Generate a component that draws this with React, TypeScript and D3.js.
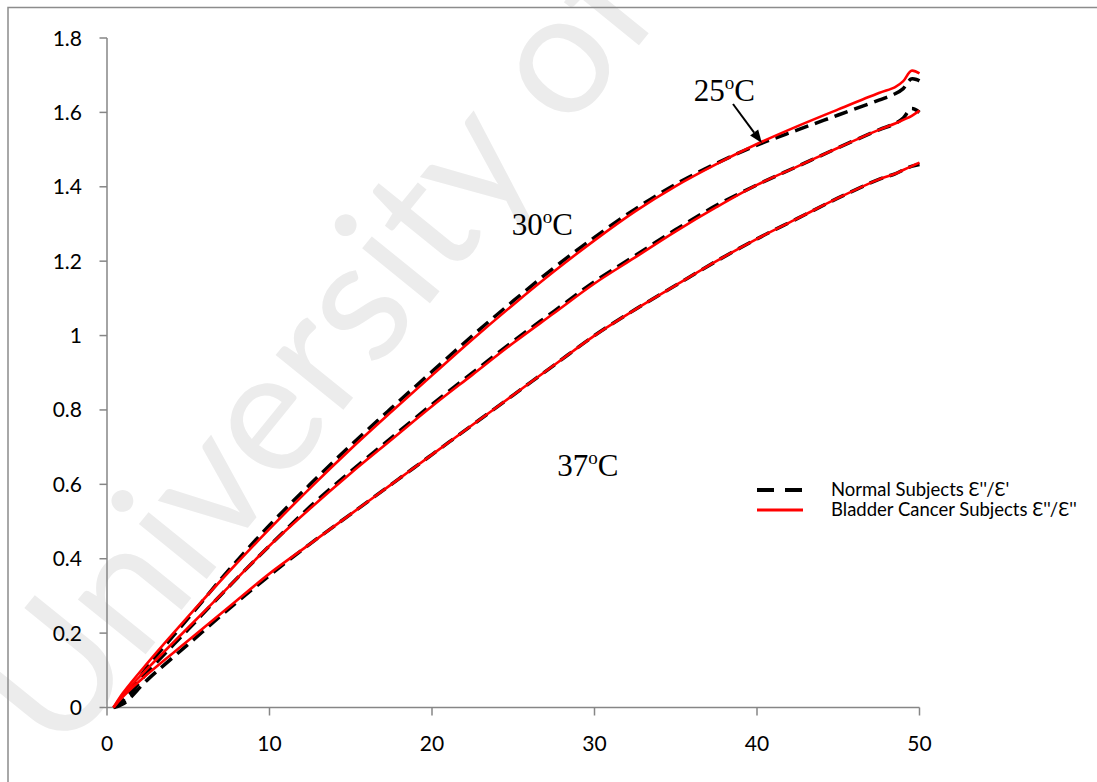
import React from "react";
import * as d3 from "d3";

const xValues = [0.4, 1, 2.5, 5, 7.5, 10, 12.5, 15, 17.5, 20, 22.5, 25, 27.5, 30, 32.5, 35, 37.5, 40, 42.5, 45, 47.5, 48.5, 49, 49.5, 50];

const cancer25 = [0, 0.04, 0.12, 0.245, 0.365, 0.48, 0.59, 0.695, 0.795, 0.893, 0.99, 1.083, 1.172, 1.256, 1.334, 1.402, 1.461, 1.515, 1.563, 1.608, 1.652, 1.668, 1.684, 1.712, 1.705];
const normal25 = [0, 0.02, 0.11, 0.24, 0.37, 0.49, 0.60, 0.705, 0.805, 0.903, 1.0, 1.093, 1.182, 1.264, 1.34, 1.407, 1.463, 1.512, 1.553, 1.593, 1.633, 1.65, 1.664, 1.69, 1.685];
const cancer30 = [0, 0.035, 0.105, 0.215, 0.325, 0.435, 0.535, 0.63, 0.72, 0.81, 0.895, 0.98, 1.06, 1.14, 1.21, 1.28, 1.345, 1.405, 1.455, 1.505, 1.553, 1.57, 1.58, 1.59, 1.605];
const normal30 = [0, 0.015, 0.095, 0.21, 0.325, 0.435, 0.54, 0.635, 0.725, 0.815, 0.90, 0.985, 1.065, 1.145, 1.215, 1.285, 1.35, 1.405, 1.455, 1.505, 1.553, 1.57, 1.585, 1.61, 1.60];
const cancer37 = [0, 0.03, 0.09, 0.18, 0.27, 0.36, 0.44, 0.52, 0.60, 0.68, 0.76, 0.84, 0.92, 1.0, 1.07, 1.135, 1.2, 1.26, 1.315, 1.37, 1.42, 1.435, 1.445, 1.455, 1.465];
const normal37 = [0, 0.01, 0.075, 0.17, 0.265, 0.355, 0.44, 0.52, 0.60, 0.68, 0.76, 0.84, 0.92, 1.0, 1.07, 1.135, 1.2, 1.26, 1.315, 1.37, 1.42, 1.435, 1.445, 1.455, 1.46];

const xTicks = [0, 10, 20, 30, 40, 50];
const yTicks = [0, 0.2, 0.4, 0.6, 0.8, 1, 1.2, 1.4, 1.6, 1.8];

const legendLabels = ["Normal Subjects \u0190''/\u0190'", "Bladder Cancer Subjects \u0190''/\u0190''"];
const tempLabels = [
  { t: "25", x: 36.1, y: 1.631 },
  { t: "30", x: 24.9, y: 1.27 },
  { t: "37", x: 27.7, y: 0.622 },
];

const W = 1097;
const H = 782;

export default function App() {
  const x = d3.scaleLinear().domain([0, 50]).range([107, 919.5]);
  const y = d3.scaleLinear().domain([0, 1.8]).range([707.5, 38]);
  const line = (ys: number[]) =>
    d3
      .line<number>()
      .x((_, i) => x(xValues[i]))
      .y((d) => y(d))
      .curve(d3.curveCatmullRom.alpha(0.5))(ys) as string;

  const normals = [normal25, normal30, normal37];
  const cancers = [cancer25, cancer30, cancer37];
  const axisColor = "#868686";
  const tickFont = "Lato, Carlito, 'Open Sans', sans-serif";

  // arrow geometry
  const ax0 = 733, ay0 = 104;
  const ax1 = x(40.3), ay1 = y(1.515) - 1;
  const ang = Math.atan2(ay1 - ay0, ax1 - ax0);
  const hl = 13, hw = 5;
  const bx = ax1 - hl * Math.cos(ang), by = ay1 - hl * Math.sin(ang);
  const head = `M${ax1},${ay1} L${bx + hw * Math.sin(ang)},${by - hw * Math.cos(ang)} L${bx - hw * Math.sin(ang)},${by + hw * Math.cos(ang)} Z`;

  return (
    <svg
      width={W}
      height={H}
      style={{ position: "absolute", left: 0, top: 0, background: "#fff" }}
    >
      <rect x={0} y={0} width={W} height={H} fill="#fff" />
      <text
        transform="translate(60,760) rotate(-51)"
        fontFamily="Lato, 'Open Sans', sans-serif"
        fontSize={172}
        fill="#ececec"
      >
        University of
      </text>
      <rect x={8} y={7.5} width={W + 20} height={H + 20} fill="none" stroke="#8c8c8c" strokeWidth={1.5} />

      {/* axes */}
      <line x1={x(0)} x2={x(0)} y1={y(1.8)} y2={y(0)} stroke={axisColor} strokeWidth={1.5} />
      <line x1={x(0)} x2={x(50)} y1={y(0)} y2={y(0)} stroke={axisColor} strokeWidth={1.5} />
      {yTicks.map((t) => (
        <g key={"y" + t}>
          <line x1={x(0) - 7.5} x2={x(0)} y1={y(t)} y2={y(t)} stroke={axisColor} strokeWidth={1.5} />
          <text x={82} y={y(t) + 7.5} textAnchor="end" fontFamily={tickFont} fontSize={21} fill="#000">
            {String(t)}
          </text>
        </g>
      ))}
      {xTicks.map((t) => (
        <g key={"x" + t}>
          <line x1={x(t)} x2={x(t)} y1={y(0)} y2={y(0) + 8} stroke={axisColor} strokeWidth={1.5} />
          <text x={x(t)} y={750.5} textAnchor="middle" fontFamily={tickFont} fontSize={21} fill="#000">
            {String(t)}
          </text>
        </g>
      ))}

      {/* series */}
      {normals.map((s, i) => (
        <path key={"n" + i} d={line(s)} fill="none" stroke="#000" strokeWidth={3.5} strokeDasharray="14 7" />
      ))}
      {cancers.map((s, i) => (
        <path key={"c" + i} d={line(s)} fill="none" stroke="#ff0000" strokeWidth={2.6} />
      ))}

      {/* legend */}
      <line x1={757} x2={803} y1={490} y2={490} stroke="#000" strokeWidth={4} strokeDasharray="17 11" />
      <text x={831} y={496} fontFamily={tickFont} fontSize={18.5} fill="#000">{legendLabels[0]}</text>
      <line x1={757} x2={803} y1={510} y2={510} stroke="#ff0000" strokeWidth={3} />
      <text x={831} y={516} fontFamily={tickFont} fontSize={18.5} fill="#000">{legendLabels[1]}</text>

      {/* temperature annotations */}
      {tempLabels.map((l) => (
        <text key={l.t} x={x(l.x)} y={y(l.y)} fontFamily="'Liberation Serif', 'Times New Roman', serif" fontSize={31} fill="#000">
          {l.t}
          <tspan fontSize={19} dy={-12}>o</tspan>
          <tspan fontSize={31} dy={12}>C</tspan>
        </text>
      ))}
      <line x1={ax0} y1={ay0} x2={bx} y2={by} stroke="#000" strokeWidth={2} />
      <path d={head} fill="#000" />
    </svg>
  );
}
